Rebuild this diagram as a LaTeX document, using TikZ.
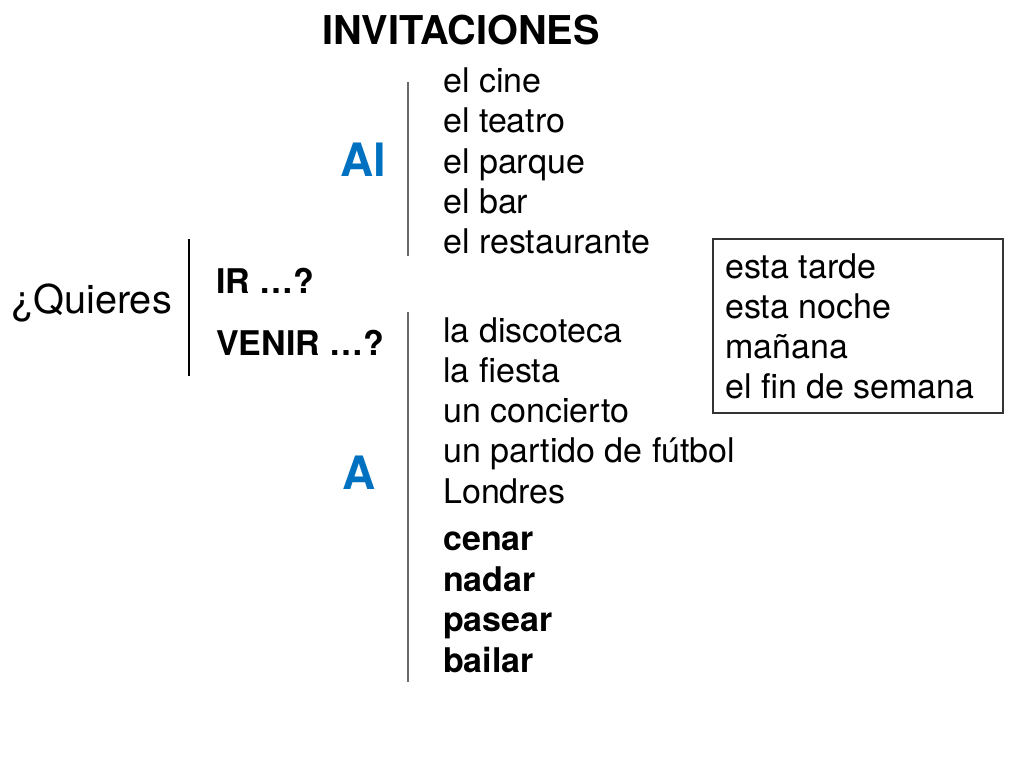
\documentclass[tikz,border=0pt]{standalone}
\usepackage{fontspec}
\setmainfont{TeX Gyre Heros}
\definecolor{azul}{HTML}{0070C0}
\definecolor{raya}{HTML}{6A6A6A}
\begin{document}
\begin{tikzpicture}[x=1pt,y=-1pt]
\tikzstyle{every node}=[anchor=base west, inner sep=0pt]
\tikzstyle{item}=[font=\fontsize{34}{40}\selectfont]
\tikzstyle{verbo}=[font=\fontsize{34}{40}\selectfont\bfseries]
\tikzstyle{prep}=[font=\fontsize{46}{55}\selectfont\bfseries, text=azul]
\tikzstyle{bar}=[raya, line width=2pt]
\useasboundingbox (0,0) rectangle (1024,768);

\node[font=\fontsize{39.7}{47}\selectfont\bfseries] (titulo) at (322, 45) {INVITACIONES};
\node[font=\fontsize{39.7}{47}\selectfont] (quieres) at (11, 313) {¿Quieres};
\node[verbo] (ir)    at (216, 293) {IR …?};
\node[verbo] (venir) at (216, 355) {VENIR …?};

\node[prep] (al) at (340, 176) {Al};
\node[prep] (a)  at (342, 489) {A};

\node[item] (cine)   at (443,  92) {el cine};
\node[item] (teatro) at (443, 132) {el teatro};
\node[item] (parque) at (443, 173) {el parque};
\node[item] (bar)    at (443, 213) {el bar};
\node[item] (rest)   at (443, 253) {el restaurante};

\node[item] (disco)   at (443, 342) {la discoteca};
\node[item] (fiesta)  at (443, 382) {la fiesta};
\node[item] (conc)    at (443, 422) {un concierto};
\node[item] (partido) at (443, 462) {un partido de fútbol};
\node[item] (londres) at (443, 503) {Londres};

\node[verbo] (cenar)  at (443, 550) {cenar};
\node[verbo] (nadar)  at (443, 591) {nadar};
\node[verbo] (pasear) at (443, 631) {pasear};
\node[verbo] (bailar) at (443, 672) {bailar};

\node[item] (tarde)  at (725, 278) {esta tarde};
\node[item] (noche)  at (725, 318) {esta noche};
\node[item] (manana) at (725, 358) {mañana};
\node[item] (finde)  at (725, 398) {el fin de semana};
\draw[black!80, line width=1.5pt] (713, 239) rectangle (1003, 413);

\coordinate (q1) at (189, 239);
\coordinate (q2) at (189, 376);
\coordinate (al1) at (408, 82);
\coordinate (al2) at (408, 256);
\coordinate (a1)  at (408, 312);
\coordinate (a2)  at (408, 682);
\draw[black, line width=1.4pt] (q1) -- (q2);
\draw[bar] (al1) -- (al2);
\draw[bar] (a1) -- (a2);
\end{tikzpicture}
\end{document}
